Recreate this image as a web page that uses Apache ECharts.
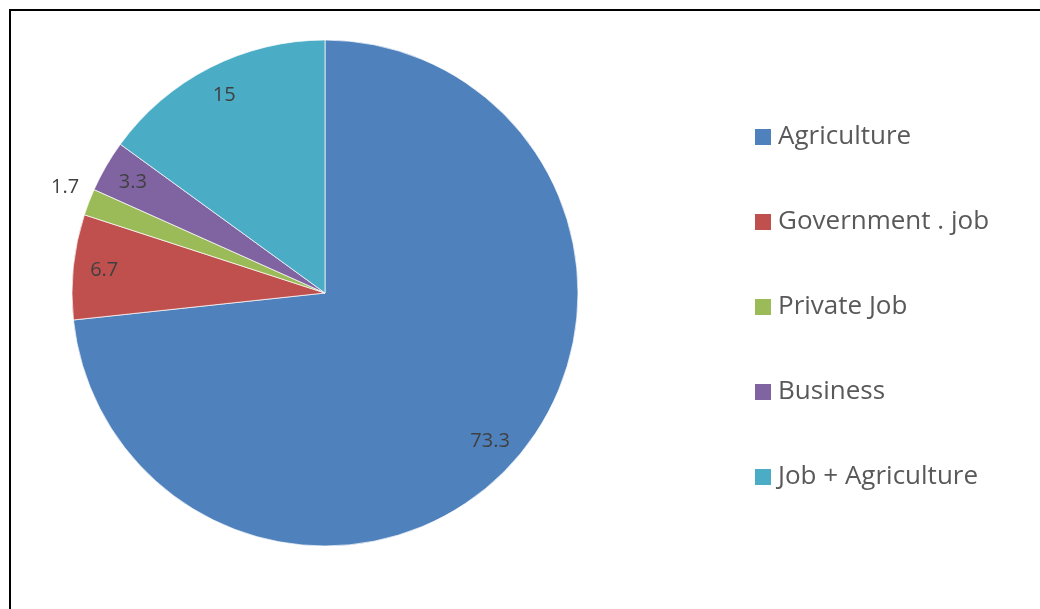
<!DOCTYPE html>
<html>
<head>
<meta charset="utf-8">
<title>Occupation distribution</title>
<script src="https://cdn.jsdelivr.net/npm/echarts@6/dist/echarts.min.js"></script>
<style>
  html, body { margin: 0; padding: 0; background: #fff; }
  #chart { width: 1040px; height: 609px; }
</style>
</head>
<body>
<div id="chart"></div>
<script>
// Occupation shares (percent)
const categories = ['Agriculture', 'Government . job', 'Private Job', 'Business', 'Job + Agriculture'];
const values = [73.3, 6.7, 1.7, 3.3, 15];
const colors = ['#4F81BD', '#C0504D', '#9BBB59', '#8064A2', '#4BACC6'];
// slices whose value label sits outside the pie
const outsideLabels = ['Private Job'];

const FONT = '"Open Sans", "Noto Sans", sans-serif';
const CENTER = [325, 293];
const RADIUS = 253;

const chart = echarts.init(document.getElementById('chart'), null, { renderer: 'canvas' });

const sliceData = categories.map((name, i) => ({
  name: name,
  value: values[i],
  itemStyle: { color: colors[i] }
}));

// Transparent ring sharing the pie's angles; its 'inside' label anchor
// falls near the outer rim of each slice.
const labelData = categories.map((name, i) => {
  const outside = outsideLabels.indexOf(name) >= 0;
  return {
    name: name,
    value: values[i],
    label: { position: outside ? 'outside' : 'inside' },
    labelLine: { show: false, length: 5, length2: 0 }
  };
});

chart.setOption({
  backgroundColor: '#ffffff',
  animation: false,
  graphic: [{
    type: 'rect',
    silent: true,
    shape: { x: 10, y: 10, width: 1100, height: 700 },
    style: { fill: 'none', stroke: '#000000', lineWidth: 2 }
  }],
  legend: {
    orient: 'vertical',
    left: 755,
    top: 124,
    padding: 0,
    data: categories,
    icon: 'rect',
    itemWidth: 16,
    itemHeight: 16,
    itemGap: 59,
    selectedMode: false,
    itemStyle: { borderWidth: 0 },
    textStyle: {
      fontFamily: FONT,
      fontSize: 26,
      color: '#595959',
      padding: [0, 0, 0, 2]
    }
  },
  series: [
    {
      name: 'Occupation',
      type: 'pie',
      center: CENTER,
      radius: RADIUS,
      startAngle: 90,
      clockwise: true,
      silent: true,
      label: { show: false },
      labelLine: { show: false },
      itemStyle: { borderColor: 'rgba(255,255,255,0.7)', borderWidth: 1 },
      data: sliceData
    },
    {
      name: 'Values',
      type: 'pie',
      center: CENTER,
      radius: [185, RADIUS],
      startAngle: 90,
      clockwise: true,
      silent: true,
      legendHoverLink: false,
      avoidLabelOverlap: false,
      itemStyle: { color: 'rgba(0,0,0,0)', borderWidth: 0 },
      label: {
        show: true,
        formatter: '{c}',
        fontFamily: FONT,
        fontSize: 20,
        color: '#404040'
      },
      labelLayout: function (p) {
        if (outsideLabels.indexOf(categories[p.dataIndex]) >= 0) {
          return { dy: -13 };
        }
        return {};
      },
      data: labelData
    }
  ]
});
</script>
</body>
</html>
